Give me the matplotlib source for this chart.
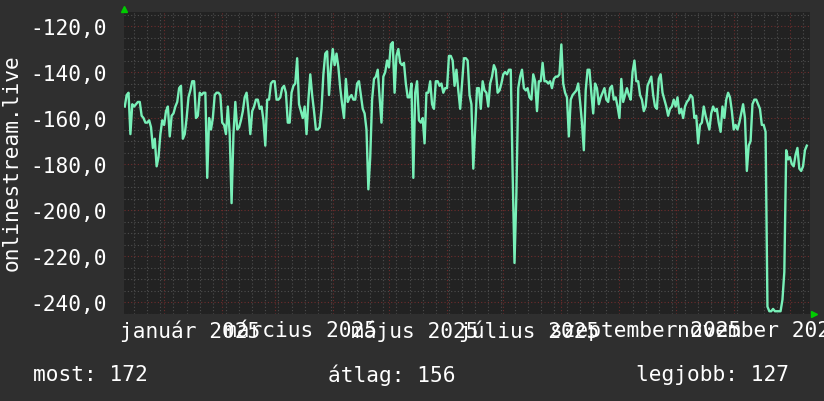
import matplotlib
matplotlib.use("Agg")
import matplotlib.pyplot as plt
import matplotlib.dates as mdates
from matplotlib.ticker import MultipleLocator, FuncFormatter
import numpy as np
import pandas as pd

# ---------------- data ----------------
series_name = "onlinestream.live"
start_date = "2024-12-11"          # first daily sample
# daily rank (plotted negated, as in the original graph)
rank = [
    155, 150, 149, 167, 154, 155, 154, 153, 153, 159, 160, 162, 162, 161, 164, 173, 169, 181, 177, 167, 161,
    163, 157, 155, 168, 159, 158, 155, 153, 147, 146,
    169, 167, 160, 151, 148, 144, 144, 160, 159, 149,
    150, 149, 149, 186, 160, 165, 160, 150, 149, 149,
    150, 162, 163, 167, 155, 167, 197, 167, 153, 165,
    164, 161, 157, 151, 149, 157, 167, 157, 155, 152,
    152, 156, 155, 161, 172, 152, 152, 145, 144, 144,
    152, 152, 151, 147, 146, 149, 162, 162, 149, 146,
    145, 134, 154, 157, 160, 155, 167, 152, 141, 150,
    157, 165, 165, 164, 156, 141, 132, 131, 150, 138,
    130, 137, 132, 138, 147, 154, 160, 143, 153, 151,
    150, 152, 152, 145, 144, 150, 156, 158, 165, 191,
    177, 152, 143, 142, 139, 151, 162, 142, 140, 135,
    138, 128, 127, 149, 133, 130, 136, 137, 136, 145,
    151, 151, 145, 186, 149, 144, 161, 162, 160, 171,
    149, 149, 144, 154, 156, 144, 144, 146, 145, 149,
    147, 147, 133, 133, 135, 146, 139, 148, 156, 145,
    134, 134, 135, 150, 154, 182, 165, 147, 147, 156,
    144, 148, 149, 155, 145, 142, 137, 139, 149, 148,
    145, 141, 140, 141, 139, 139, 184, 223, 193, 147,
    142, 139, 147, 148, 147, 151, 152, 141, 144, 157,
    144, 144, 136, 144, 144, 145, 144, 147, 143, 142,
    142, 141, 128, 145, 149, 151, 168, 152, 150, 149,
    148, 145, 153, 162, 174, 148, 139, 139, 149, 158,
    145, 147, 154, 151, 149, 147, 152, 153, 147, 146,
    152, 151, 155, 160, 143, 153, 150, 147, 150, 152,
    140, 135, 144, 144, 150, 152, 157, 155, 146, 144,
    142, 150, 155, 156, 143, 141, 149, 152, 155, 159,
    156, 155, 152, 155, 151, 158, 156, 160, 155, 153,
    152, 150, 151, 160, 159, 171, 163, 162, 155, 159,
    162, 165, 158, 155, 157, 156, 162, 166, 155, 160,
    152, 149, 151, 157, 165, 163, 165, 162, 158, 154,
    160, 183, 172, 170, 154, 152, 152, 154, 156, 163,
    163, 166, 242, 244, 244, 243, 244, 244, 244, 244,
    239, 227, 174, 178, 177, 180, 181, 176, 173, 182,
    183, 181, 174, 172,
]
x_range = ["2024-12-10 14:00", "2025-12-11 17:00"]
y_range = [-245.2, -113.9]
label_months = ["2025-01", "2025-03", "2025-05", "2025-07", "2025-09", "2025-11"]
month_names = ["január", "február", "március", "április", "május", "június",
               "július", "augusztus", "szeptember", "október", "november", "december"]

# ---------------- style ----------------
FIG_BG = "#2f2f2f"
PLOT_BG = "#222222"
LINE = "#78f0b8"
MINOR_GRID = "#4e4e4e"
MAJOR_GRID = "#6e2c2c"
TXT = "#ffffff"
ARROW = "#00cc00"
FONT = "DejaVu Sans Mono"
FS = 15.2

plt.rcParams["font.family"] = [FONT, "DejaVu Sans"]

W, H = 824, 402
fig = plt.figure(figsize=(W / 100, H / 100), dpi=100, facecolor=FIG_BG)
ax = fig.add_axes([124 / W, (H - 315) / H, 686 / W, 302 / H])
ax.set_facecolor(PLOT_BG)

dates = pd.date_range(start_date, periods=len(rank), freq="D")
values = -np.asarray(rank, dtype=float)

ax.set_xlim(pd.Timestamp(x_range[0]), pd.Timestamp(x_range[1]))
ax.set_ylim(*y_range)

# grid
ax.xaxis.set_major_locator(mdates.MonthLocator())
ax.xaxis.set_minor_locator(mdates.WeekdayLocator(byweekday=mdates.MO))
ax.yaxis.set_major_locator(MultipleLocator(20))
ax.yaxis.set_minor_locator(MultipleLocator(5))
dot = (0, (1, 2))
ax.grid(which="minor", color=MINOR_GRID, linestyle=dot, linewidth=0.8)
ax.grid(which="major", color=MAJOR_GRID, linestyle=dot, linewidth=0.8)
ax.set_axisbelow(True)

ax.plot(dates, values, color=LINE, linewidth=1.7, zorder=3)

for s in ax.spines.values():
    s.set_visible(False)
ax.tick_params(which="both", length=0)
ax.tick_params(axis="x", labelbottom=False)
ax.tick_params(axis="y", colors=TXT, labelsize=FS, pad=12)
ax.yaxis.set_major_formatter(FuncFormatter(lambda v, p: f"{v:.1f}".replace(".", ",")))
for lbl in ax.get_yticklabels():
    lbl.set_fontfamily(FONT)

# month labels, centred mid-month
for m in label_months:
    ts = pd.Timestamp(m + "-15")
    ax.text(ts, -0.053, f"{month_names[ts.month - 1]} {ts.year}", transform=ax.get_xaxis_transform(),
            ha="center", va="center", color=TXT, fontsize=FS, clip_on=False)

# axis arrows
ax.plot([0], [1 + 3 / 302], marker="^", color=ARROW, markersize=5, transform=ax.transAxes, clip_on=False)
ax.plot([1 + 4 / 686], [0], marker=">", color=ARROW, markersize=5, transform=ax.transAxes, clip_on=False)

# y label
fig.text(12 / W, 1 - 163 / H, series_name, rotation=90, ha="center", va="center", color=TXT, fontsize=FS)

# summary line
cur = rank[-1]
avg = int(round(float(np.mean(rank))))
best = min(rank)
ty = 1 - 375 / H
fig.text(33 / W, ty, f"most: {cur}", ha="left", va="center", color=TXT, fontsize=FS)
fig.text(328 / W, ty, f"átlag: {avg}", ha="left", va="center", color=TXT, fontsize=FS)
fig.text(636 / W, ty, f"legjobb: {best}", ha="left", va="center", color=TXT, fontsize=FS)

fig.savefig("out.png", dpi=100, facecolor=FIG_BG)
